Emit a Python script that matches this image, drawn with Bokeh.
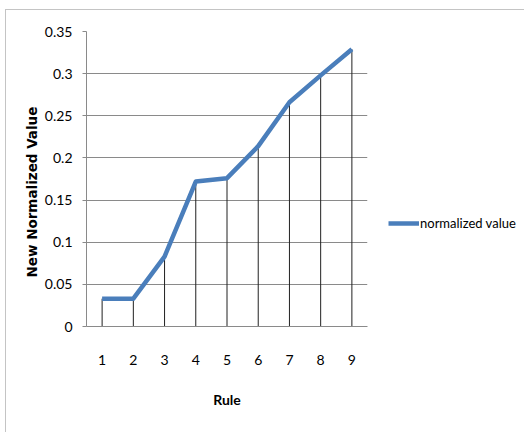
from bokeh.plotting import figure
from bokeh.models import FixedTicker, Legend, LegendItem, CustomJSTickFormatter, Title
from bokeh.embed import file_html
from bokeh.resources import INLINE

rules = [1, 2, 3, 4, 5, 6, 7, 8, 9]
normalized_value = [0.033, 0.033, 0.083, 0.172, 0.176, 0.214, 0.266, 0.298, 0.329]
y_ticks = [0, 0.05, 0.1, 0.15, 0.2, 0.25, 0.3, 0.35]
y_tick_labels = ["0", "0.05", "0.1", "0.15", "0.2", "0.25", "0.3", "0.35"]
x_title = "Rule"
y_title = "New Normalized Value"
series_name = "normalized value"

TICK_FONT = "Lato"

p = figure(width=518, height=422, output_backend="svg", toolbar_location=None,
           x_range=(0.5, 9.5), y_range=(0, 0.35),
           min_border_left=80, min_border_top=21, min_border_right=157, min_border_bottom=106,
           frame_width=281, frame_height=295)
p.styles = {"margin-left": "5px", "margin-top": "9px",
            "border-top": "1px solid #c4c4c4", "border-left": "1px solid #c4c4c4"}
p.outline_line_color = None
p.background_fill_color = "white"
p.border_fill_color = "white"

# grid
p.xgrid.visible = False
p.ygrid.ticker = FixedTicker(ticks=y_ticks)
p.ygrid.grid_line_color = "#8a8a8a"
p.ygrid.grid_line_width = 1

# drop lines
p.segment(x0=rules, y0=[0] * len(rules), x1=rules, y1=normalized_value,
          line_color="#202020", line_width=1)

r = p.line(rules, normalized_value, line_color="#4a7ebb", line_width=4.5, line_join="round")

# x axis
xa = p.xaxis[0]
xa.ticker = FixedTicker(ticks=rules)
xa.axis_line_color = "#8a8a8a"
xa.major_tick_line_color = None
xa.major_tick_out = 0
xa.major_tick_in = 0
xa.minor_tick_line_color = None
xa.major_label_standoff = 28
xa.major_label_text_font = TICK_FONT
xa.major_label_text_font_size = "14px"
xa.major_label_text_color = "black"
xa.axis_label = x_title
xa.axis_label_text_font = TICK_FONT
xa.axis_label_text_font_style = "bold"
xa.axis_label_text_font_size = "14px"
xa.axis_label_standoff = 23
xa.axis_label_text_color = "black"

# y axis
ya = p.yaxis[0]
ya.ticker = FixedTicker(ticks=y_ticks)
ya.formatter = CustomJSTickFormatter(args=dict(lbls=y_tick_labels, vals=y_ticks), code="""
    let best = 0;
    for (let i = 0; i < vals.length; i++) {
        if (Math.abs(vals[i] - tick) < Math.abs(vals[best] - tick)) best = i;
    }
    return lbls[best];
""")
ya.axis_line_color = "#8a8a8a"
ya.major_tick_line_color = "#8a8a8a"
ya.major_tick_out = 4
ya.major_tick_in = 0
ya.minor_tick_line_color = None
ya.major_label_standoff = 10
ya.major_label_text_font = TICK_FONT
ya.major_label_text_font_size = "14px"
ya.major_label_text_color = "black"

ytitle = Title(text=y_title, align="left", offset=49, standoff=3,
               text_font="DejaVu Sans", text_font_style="bold",
               text_font_size="13.5px", text_color="black")
p.add_layout(ytitle, "left")

legend = Legend(items=[LegendItem(label=series_name, renderers=[r])],
                location=(21, 93), orientation="vertical",
                glyph_width=31, glyph_height=20, label_standoff=1,
                padding=0, margin=0, spacing=0,
                border_line_color=None, background_fill_alpha=0,
                label_text_font=TICK_FONT, label_text_font_size="13px",
                label_text_color="black")
p.add_layout(legend, "right")

open("out.html", "w").write(file_html(p, INLINE))
